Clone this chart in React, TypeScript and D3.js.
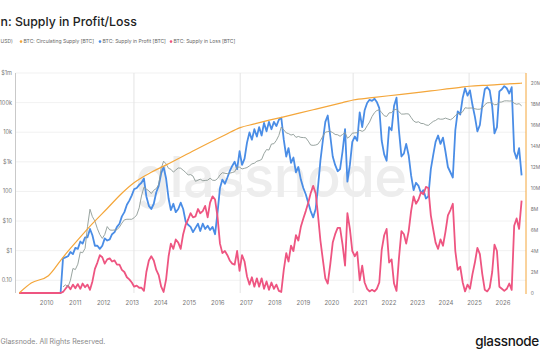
import React from "react";
import * as d3 from "d3";

const W = 540;
const H = 360;

// Time span of the data (daily data sampled monthly here)
const DATA_START = new Date(2009, 0, 3);
const DATA_END = new Date(2026, 1, 6);

// Monthly categories 2009-01 .. 2026-02 (206 months)
const months: Date[] = d3.timeMonth.range(new Date(2009, 0, 1), new Date(2026, 2, 1));

// BTC: Supply in Profit [BTC], millions, one value per month
const profitValues = [
  0, 0, 0, 0, 0, 0, 0, 0, 0, 0, 0, 0, 0, 0, 0, 0, 0, 0,
  3.3, 3.4, 3.5, 3.9, 3.7, 4.3, 4.2, 4.9, 4.7, 5.3, 5.3, 6.1, 5.5,
  4.5, 4.5, 4.2, 4.5, 5.2, 5.0, 5.1, 5.6, 5.8, 6.3, 6.6, 7.3, 7.7, 8.4, 8.8, 9.3, 9.9,
  10.0, 10.3, 10.5, 10.9, 9.2, 8.3, 8.0, 8.5, 9.6, 10.2, 11.4, 12.0, 10.9,
  9.0, 7.9, 8.5, 7.7, 8.0, 8.6, 8.0, 6.8, 6.5, 6.3, 5.8, 6.2, 6.6, 5.9, 6.6, 6.1, 6.4, 6.0, 6.3, 5.6,
  7.6, 10.0, 10.8, 10.4, 11.0, 11.6, 12.1, 12.5,
  11.8, 13.5, 12.2, 12.8, 14.3, 15.3, 14.6, 15.6, 14.9, 15.8, 15.0, 16.2, 15.4, 16.3, 15.6, 16.3, 15.9, 16.5, 16.7,
  14.6, 13.0, 13.8, 12.4, 12.9, 11.5, 12.0, 10.8, 10.0, 9.4, 8.6, 7.8, 7.2,
  8.0, 10.0, 12.6, 14.5, 16.3, 16.9, 15.0, 13.0, 12.2, 11.6,
  11.8, 13.5, 15.6, 10.6, 12.2, 14.4, 14.9, 14.5, 17.2, 15.8, 17.4, 18.1, 18.4, 18.3, 18.5, 18.2, 17.6,
  14.5, 13.2, 12.6, 15.8, 15.5, 17.8, 18.6, 15.5, 13.0, 13.3, 14.2, 13.1, 11.2, 9.8, 10.5, 10.2, 9.5, 9.8, 9.0, 9.2,
  11.8, 13.2, 14.4, 15.0, 14.2,
  14.8, 13.5, 12.0, 11.5, 11.0, 15.5, 17.3, 17.0, 18.6, 19.5, 18.8, 19.3, 17.9, 16.8, 15.4, 16.0, 17.9, 19.4, 19.6,
  19.3, 17.8, 15.2, 15.8, 19.2, 19.4, 19.7, 19.5, 19.0, 19.6, 13.5, 12.8, 13.8, 11.2,
];

// BTC: Supply in Loss [BTC], millions, one value per month
const lossValues = [
  0, 0, 0, 0, 0, 0, 0, 0, 0, 0, 0, 0, 0, 0, 0, 0, 0, 0,
  0.1, 0.4, 0.7, 0.35, 0.8, 0.45, 0.85, 0.4, 0.9, 0.55, 0.8, 0.3, 1.1,
  2.3, 2.9, 3.6, 3.4, 2.8, 3.2, 3.3, 3.0, 3.1, 2.7, 2.7, 2.2, 2.0, 1.5, 1.3, 1.0, 0.6,
  0.7, 0.5, 0.5, 0.2, 2.0, 3.1, 3.5, 3.1, 2.2, 1.7, 0.6, 0.1, 1.3,
  3.5, 4.7, 4.2, 5.1, 4.8, 4.2, 5.6, 6.5, 7.0, 7.6, 7.2, 7.3, 8.0, 7.6, 7.8, 8.3, 7.2, 8.6, 9.2, 8.9,
  7.3, 4.7, 3.8, 4.0, 3.6, 3.1, 2.8, 2.7,
  4.0, 2.1, 3.6, 3.0, 1.6, 0.8, 1.5, 0.6, 1.4, 0.6, 1.4, 0.4, 1.1, 0.3, 1.0, 0.4, 0.8, 0.2, 0.1,
  2.2, 3.8, 3.0, 4.5, 4.0, 5.5, 5.0, 6.3, 7.1, 7.8, 8.6, 9.5, 10.2,
  9.5, 7.5, 5.0, 3.2, 1.4, 0.9, 2.7, 4.8, 5.6, 6.2,
  6.2, 4.6, 2.6, 7.6, 6.1, 4.0, 3.5, 3.9, 1.2, 2.6, 1.0, 0.4, 0.15, 0.3, 0.15, 0.4, 1.0,
  4.1, 5.5, 6.1, 2.9, 3.2, 0.9, 0.2, 3.3, 5.9, 5.6, 4.7, 5.9, 7.8, 9.2, 8.5, 8.9, 9.6, 9.4, 10.1, 10.0,
  7.4, 6.0, 4.8, 4.2, 5.1,
  4.5, 5.8, 7.4, 7.9, 8.5, 4.0, 2.2, 2.5, 1.0, 0.15, 0.8, 0.4, 1.8, 2.9, 4.3, 3.7, 1.8, 0.3, 0.15,
  0.5, 2.0, 4.6, 4.0, 0.6, 0.4, 0.2, 0.4, 0.9, 0.3, 6.4, 7.1, 6.1, 8.8,
];

// BTC: Price [USD], monthly, starting 2010-07
const PRICE_FIRST_MONTH = 18;
const priceValues = [
  0.06, 0.07, 0.06, 0.1, 0.25, 0.23,
  0.35, 0.9, 0.85, 1.2, 6.5, 25,
  14, 10, 5.5, 3.5, 2.6, 3.5,
  6.5, 5.0, 4.9, 5.0, 5.1, 6.3,
  8.5, 11, 11.5, 11.5, 11.5, 13,
  16, 28, 70, 140, 120, 105,
  85, 110, 125, 170, 600, 1050,
  850, 600, 560, 450, 530, 620,
  610, 520, 440, 360, 370, 330,
  220, 240, 260, 230, 235, 240,
  280, 240, 235, 270, 360, 430,
  410, 400, 415, 435, 460, 670,
  660, 575, 605, 640, 730, 850,
  900, 1050, 1100, 1200, 1900, 2600,
  2500, 4000, 4100, 5300, 7800, 15000,
  12000, 9500, 9000, 8000, 8500, 6700,
  7200, 6700, 6600, 6500, 5000, 3700,
  3600, 3700, 3950, 5200, 7300, 10000,
  10500, 10700, 9700, 8400, 8200, 7300,
  8400, 9700, 6300, 7200, 9300, 9500,
  9600, 11700, 10700, 11800, 16500, 22000,
  34000, 46000, 54000, 57000, 46000, 36000,
  34000, 45000, 46000, 57000, 60000, 49000,
  41000, 41000, 42000, 41500, 31500, 24000,
  21500, 22500, 19800, 19600, 17600, 17000,
  20000, 23300, 25000, 28800, 27500, 27700,
  30000, 28000, 26300, 29500, 36500, 42500,
  42500, 49500, 67000, 65000, 65500, 66000,
  62000, 59500, 60000, 65500, 85000, 98000,
  100000, 96000, 85000, 86000, 103000, 105000,
  114000, 115000, 113000, 114000, 95000, 88000,
  92000, 78000,
];

// BTC: Circulating Supply [BTC], millions
const supplyDates = [
  "2009-01-03", "2009-06-01", "2010-01-01", "2010-07-01", "2011-01-01", "2011-07-01",
  "2012-01-01", "2012-07-01", "2012-11-28", "2013-07-01", "2014-01-01", "2015-01-01",
  "2016-01-01", "2016-07-09", "2017-01-01", "2018-01-01", "2019-01-01", "2020-01-01",
  "2020-05-11", "2021-01-01", "2022-01-01", "2023-01-01", "2024-01-01", "2024-04-20",
  "2025-01-01", "2026-01-01", "2026-02-06",
];
const supplyValues = [
  0, 0.95, 1.65, 3.4, 5.05, 6.6,
  8.05, 9.5, 10.5, 11.5, 12.2, 13.65,
  15.05, 15.75, 16.1, 16.78, 17.45, 18.13,
  18.38, 18.6, 18.92, 19.25, 19.58, 19.69,
  19.8, 19.97, 19.98,
];

// Halving dates (vertical guide lines)
const halvingDates = ["2012-11-28", "2016-07-09", "2020-05-11", "2024-04-20"];

// Axis ticks (left-axis labels as visible in the cropped reference)
const yearTicks = d3.range(2010, 2027);
const priceTicks = [1e6, 1e5, 1e4, 1e3, 100, 10, 1, 0.1];
const priceTickLabels = ["$1m", "100k", "10k", "$1k", "100", "$10", "$1", "0.10"];
const supplyTicks = d3.range(0, 21, 2);
const supplyTickLabels = supplyTicks.map((v) => (v === 0 ? "0" : `${v}M`));

const legendItems = [
  { label: "BTC: Circulating Supply [BTC]", color: "#f4a63a" },
  { label: "BTC: Supply in Profit [BTC]", color: "#4a8de6" },
  { label: "BTC: Supply in Loss [BTC]", color: "#ee5581" },
];

const COLORS = {
  supply: "#f4a63a",
  profit: "#4a8de6",
  loss: "#ee5581",
  price: "#8d9a95",
};

const FONT = "Inter, 'Noto Sans', 'DejaVu Sans', sans-serif";

export default function App() {
  const parse = d3.timeParse("%Y-%m-%d");

  const x = d3.scaleTime().domain([DATA_START, DATA_END]).range([19.2, 522]);
  // year labels of the reference sit on their own, slightly tighter spacing
  const labelX = d3
    .scaleTime()
    .domain([new Date(2009, 0, 1), new Date(2026, 8, 1)])
    .range([18.2, 522]);
  const yPrice = d3.scaleLog().domain([0.0372, 1e6]).range([293, 73]);
  const ySupply = d3.scaleLinear().domain([0, 20]).range([293, 83]);

  const supplyLine = d3
    .line<[Date, number]>()
    .x((d) => x(d[0]))
    .y((d) => ySupply(d[1]))
    .curve(d3.curveMonotoneX);

  const seriesLine = d3
    .line<[Date, number]>()
    .x((d) => x(d[0]))
    .y((d) => ySupply(d[1]));

  const priceLine = d3
    .line<[Date, number]>()
    .x((d) => x(d[0]))
    .y((d) => yPrice(d[1]));

  const supplyData: [Date, number][] = supplyDates.map((s, i) => [parse(s) as Date, supplyValues[i]]);
  const profitData: [Date, number][] = months.map((m, i) => [m, profitValues[i]]);
  const lossData: [Date, number][] = months.map((m, i) => [m, lossValues[i]]);
  const priceData: [Date, number][] = priceValues.map((p, i) => [months[PRICE_FIRST_MONTH + i], p]);

  const top = 73;
  const bottom = 293;
  const left = 15.5;
  const right = 526;

  return (
    <svg
      width={W}
      height={H}
      viewBox={`0 0 ${W} ${H}`}
      style={{ position: "absolute", left: 0, top: 0, background: "#ffffff", fontFamily: FONT }}
    >
      <rect x={0} y={0} width={W} height={H} fill="#ffffff" />

      {/* Title (cropped at the left in the reference) */}
      <text x={0.5} y={26.3} fontSize={12.3} fontWeight={500} fill="#222">
        n: Supply in Profit/Loss
      </text>

      {/* Legend */}
      <text x={0.5} y={43.2} fontSize={5} fill="#666">
        USD)
      </text>
      {legendItems.map((it, i) => {
        const lx = [21, 100, 171][i];
        return (
          <g key={it.label}>
            <circle cx={lx} cy={41.6} r={1.3} fill={it.color} />
            <text x={lx + 2.6} y={43.2} fontSize={5} fill="#666">
              {it.label}
            </text>
          </g>
        );
      })}

      {/* Horizontal grid */}
      {priceTicks.map((p) => (
        <line key={p} x1={left} x2={right} y1={yPrice(p)} y2={yPrice(p)} stroke="#eeeeee" strokeWidth={0.8} />
      ))}

      {/* Halving lines */}
      {halvingDates.map((d) => {
        const hx = x(parse(d) as Date);
        return <line key={d} x1={hx} x2={hx} y1={top} y2={bottom} stroke="#e4e4e4" strokeWidth={1} />;
      })}

      {/* Watermark */}
      <text x={271} y={197} textAnchor="middle" fontSize={56} fontWeight={500} fill="#ededed" letterSpacing={-0.5}>
        glassnode
      </text>

      {/* Axes lines */}
      <line x1={left} x2={left} y1={top} y2={bottom} stroke="#c9c9c9" strokeWidth={1} />
      <line x1={right} x2={right} y1={top} y2={bottom + 1} stroke={COLORS.supply} strokeWidth={1} />

      {/* Series */}
      <path d={seriesLine(profitData) || ""} fill="none" stroke={COLORS.profit} strokeWidth={1.8} strokeLinejoin="round" />
      <path d={seriesLine(lossData) || ""} fill="none" stroke={COLORS.loss} strokeWidth={1.8} strokeLinejoin="round" />
      <path d={priceLine(priceData) || ""} fill="none" stroke={COLORS.price} strokeWidth={0.9} strokeLinejoin="round" />
      <path d={supplyLine(supplyData) || ""} fill="none" stroke={COLORS.supply} strokeWidth={1.2} />

      {/* Left axis labels */}
      {priceTicks.map((p, i) => (
        <text key={p} x={12} y={yPrice(p)} dy="0.35em" textAnchor="end" fontSize={5.6} fill="#777">
          {priceTickLabels[i]}
        </text>
      ))}

      {/* Right axis labels */}
      {supplyTicks.map((v, i) => (
        <text key={v} x={530.8} y={ySupply(v)} dy="0.35em" fontSize={4.9} fill="#777">
          {supplyTickLabels[i]}
        </text>
      ))}

      {/* Year labels */}
      {yearTicks.map((yr) => (
        <text key={yr} x={labelX(new Date(yr, 0, 1))} y={305.3} textAnchor="middle" fontSize={6} fill="#777">
          {yr}
        </text>
      ))}

      {/* Footer */}
      <text x={0.5} y={343.5} fontSize={7} fill="#888">
        Glassnode. All Rights Reserved.
      </text>
      <text x={539} y={345.5} textAnchor="end" fontSize={13.5} fontWeight={500} fill="#161616" letterSpacing={-0.3}>
        glassnode
      </text>
    </svg>
  );
}
